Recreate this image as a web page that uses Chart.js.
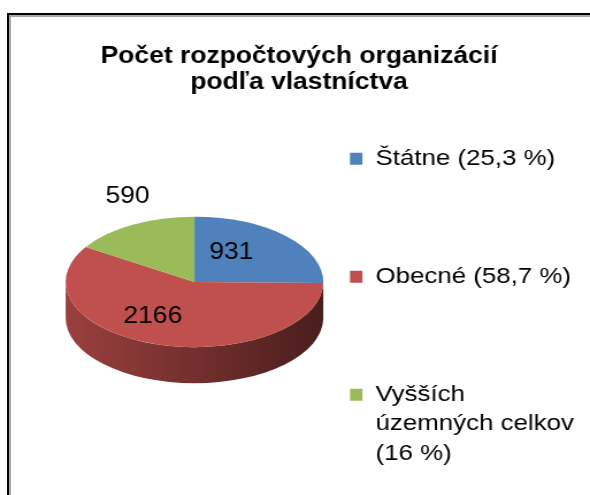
<!DOCTYPE html>
<html>
<head>
<meta charset="utf-8">
<script src="https://cdn.jsdelivr.net/npm/chart.js@4/dist/chart.umd.min.js"></script>
<style>
	html, body { margin: 0; padding: 0; background: #fff; overflow: hidden; }
	#frame { position: absolute; left: 7px; top: 13px; width: 620px; height: 520px; border-left: 2px solid #000; border-top: 2px solid #000; }
	#frame div { width: 100%; height: 100%; border-left: 2px solid #a6a6a6; border-top: 2px solid #a6a6a6; }
	#ownershipChart { position: absolute; left: 0; top: 0; }
</style>
</head>
<body>
<div id="frame"><div></div></div>
<!-- the original picture is a bit wider than it is tall, so the canvas is stretched -->
<canvas id="ownershipChart" width="513" height="495" style="width: 590px; height: 495px;"></canvas>
<script>
const titleLines = ['Počet rozpočtových organizácií', 'podľa vlastníctva'];
const categories = ['Štátne', 'Obecné', 'Vyšších územných celkov'];
const legendNameLines = [['Štátne'], ['Obecné'], ['Vyšších', 'územných celkov']];
const counts = [931, 2166, 590];
const colors = ['#4F81BD', '#C0504D', '#9BBB59'];

const FONT = "'Liberation Sans', Arial, sans-serif";
const LEGEND_ROWS = 4;

const total = counts.reduce((a, b) => a + b, 0);

function percentText(v) {
	return (v / total * 100).toFixed(1).replace(/\.0$/, '').replace('.', ',');
}

function shade(hex, f) {
	const n = parseInt(hex.slice(1), 16);
	const r = Math.round(((n >> 16) & 255) * f);
	const g = Math.round(((n >> 8) & 255) * f);
	const b = Math.round((n & 255) * f);
	return `rgb(${r}, ${g}, ${b})`;
}

// blank rows after each entry give the wide spacing of the original legend
function legendLines(i) {
	const pct = `(${percentText(counts[i])} %)`;
	const names = legendNameLines[i];
	const lines = names.length > 1 ? names.concat([pct]) : [`${names[0]} ${pct}`];
	if (i < counts.length - 1) {
		while (lines.length < LEGEND_ROWS) lines.push('');
	}
	return lines;
}

// flattens the pie and draws the side wall, like Excel's 3-D pie
const tilt3d = {
	id: 'tilt3d',
	beforeDatasetsDraw(chart, args, opts) {
		const {ctx} = chart;
		const arcs = chart.getDatasetMeta(0).data;
		const {x, y, outerRadius} = arcs[0];
		const wall = opts.depth / opts.tilt;

		ctx.save();
		ctx.translate(x, y - opts.depth / 2);
		ctx.scale(1, opts.tilt);
		ctx.translate(-x, -y);

		arcs.forEach((arc, i) => {
			const a0 = Math.max(arc.startAngle, 0);
			const a1 = Math.min(arc.endAngle, Math.PI);
			if (a1 <= a0) return;

			const base = chart.data.datasets[0].backgroundColor[i];
			const grad = ctx.createLinearGradient(x - outerRadius, 0, x + outerRadius, 0);
			grad.addColorStop(0, shade(base, 0.8));
			grad.addColorStop(0.5, shade(base, 0.6));
			grad.addColorStop(1, shade(base, 0.38));

			ctx.beginPath();
			ctx.arc(x, y, outerRadius, a0, a1);
			ctx.arc(x, y + wall, outerRadius, a1, a0, true);
			ctx.closePath();
			ctx.fillStyle = grad;
			ctx.fill();
		});
	},
	afterDatasetsDraw(chart) {
		chart.ctx.restore();
	}
};

// value labels, placed on the flattened pie
const sliceLabels = {
	id: 'sliceLabels',
	afterDraw(chart, args, opts) {
		const {ctx} = chart;
		const tiltOpts = chart.options.plugins.tilt3d;
		const arcs = chart.getDatasetMeta(0).data;

		ctx.save();
		ctx.font = `${opts.size}px ${FONT}`;
		ctx.fillStyle = '#000';
		ctx.textAlign = 'center';
		ctx.textBaseline = 'middle';

		arcs.forEach((arc, i) => {
			const place = opts.placement[i];
			const angle = arc.startAngle + place.along * (arc.endAngle - arc.startAngle);
			const r = place.radial * arc.outerRadius;
			const px = arc.x + r * Math.cos(angle);
			const py = arc.y - tiltOpts.depth / 2 + r * Math.sin(angle) * tiltOpts.tilt;
			ctx.fillText(String(counts[i]), px, py);
		});
		ctx.restore();
	}
};

// empty box on the left so the pie sits left of centre while the title stays centred
// (display: false keeps it out of the legend's width budget)
const leftGap = {
	id: 'leftGap',
	beforeInit(chart) {
		Chart.layouts.addBox(chart, {
			position: 'left',
			weight: 0,
			fullSize: false,
			options: { display: false },
			width: 0,
			height: 0,
			isHorizontal() { return false; },
			update(maxWidth, maxHeight) {
				this.width = 23;
				this.height = maxHeight;
			},
			draw() {}
		});
	}
};

const ctx = document.getElementById('ownershipChart').getContext('2d');

new Chart(ctx, {
	type: 'pie',
	data: {
		labels: categories,
		datasets: [{
			data: counts,
			backgroundColor: colors,
			borderWidth: 0,
			radius: 112,
		}]
	},
	plugins: [leftGap, tilt3d, sliceLabels],
	options: {
		responsive: false,
		animation: false,
		devicePixelRatio: 1,
		events: [],
		layout: {
			padding: { left: 11, right: 4, top: 0, bottom: 23 }
		},
		plugins: {
			tilt3d: { tilt: 0.582, depth: 36 },
			sliceLabels: {
				size: 23,
				placement: [
					{ along: 0.36, radial: 0.53 },
					{ along: 0.57, radial: 0.62 },
					{ along: 0.625, radial: 1.41 },
				]
			},
			title: {
				display: true,
				text: titleLines,
				color: '#000',
				font: { family: FONT, size: 23, weight: 'bold', lineHeight: 1.13 },
				padding: { top: 44, bottom: 32 },
			},
			legend: {
				position: 'right',
				align: 'end',
				labels: {
					color: '#000',
					font: { family: FONT, size: 22.5, lineHeight: 29.5 / 22.5 },
					boxWidth: 11,
					boxHeight: 12,
					padding: 0,
					generateLabels: (chart) => categories.map((name, i) => ({
						text: legendLines(i),
						fillStyle: colors[i],
						strokeStyle: colors[i],
						lineWidth: 0,
						fontColor: '#000',
						hidden: false,
						index: i,
					})),
				}
			},
			tooltip: { enabled: false },
		}
	}
});
</script>
</body>
</html>
